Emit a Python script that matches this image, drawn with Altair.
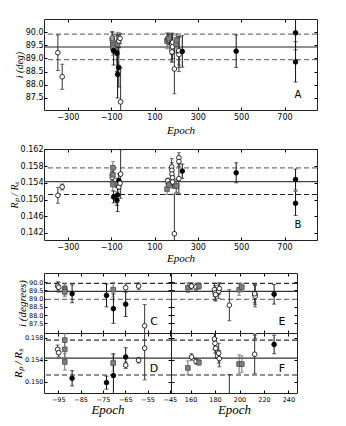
import altair as alt
import pandas as pd

# ---------------- data ----------------
epoch = [-346, -326, -95.3, -94.8, -92.1, -92.1, -92.1, -88.8, -73.4, -70.4, -70.3, -64.8, -64.8, -59.0, -56.3,
         157.8, 160.8, 164.5, 166.8, 179.5, 180.0, 180.5, 183.0, 183.5, 191.7, 199.7, 201.9, 212.6, 212.8, 212.4, 228.3,
         477, 751, 751]
series = ["open", "open", "open", "open", "grey", "grey", "grey", "black", "black", "grey", "black", "black", "open", "open", "open",
          "grey", "open", "open", "grey", "open", "open", "open", "open", "open", "open", "grey", "grey", "open", "open", "open", "black",
          "black", "black", "black"]
incl = [89.22, 88.30, 89.78, 89.70, 89.62, 89.52, 89.42, 89.30, 89.20, 89.55, 88.39, 88.66, 89.67, 89.77, 87.34,
        89.67, 89.77, 89.72, 89.77, 89.55, 89.35, 89.25, 89.45, 89.62, 88.60, 89.55, 89.70, 89.25, 89.15, 89.30, 89.27,
        89.28, 89.98, 88.87]
incl_err = [0.68, 0.48, 0.25, 0.30, 0.30, 0.30, 0.30, 0.55, 0.70, 0.45, 0.90, 0.75, 0.25, 0.20, 1.30,
            0.30, 0.20, 0.20, 0.20, 0.40, 0.45, 0.40, 0.45, 0.35, 0.95, 0.35, 0.25, 0.60, 0.65, 0.55, 0.60,
            0.62, 0.65, 0.77]
rprs = [0.1510, 0.1530, 0.1559, 0.1553, 0.1576, 0.1559, 0.1536, 0.1506, 0.1498, 0.1534, 0.1511, 0.1545, 0.1530, 0.1539, 0.1561,
        0.1525, 0.1545, 0.1537, 0.1535, 0.1578, 0.1570, 0.1561, 0.1552, 0.1542, 0.1418, 0.1532, 0.1532, 0.1600, 0.1591, 0.1550, 0.1568,
        0.1564, 0.1548, 0.1491]
rprs_err = [0.0019, 0.0007, 0.0008, 0.0008, 0.0015, 0.0015, 0.0015, 0.0014, 0.0012, 0.0015, 0.0040, 0.0017, 0.0006, 0.0005, 0.0058,
            0.0013, 0.0006, 0.0005, 0.0005, 0.0020, 0.0018, 0.0018, 0.0018, 0.0015, 0.0095, 0.0017, 0.0015, 0.0012, 0.0012, 0.0035, 0.0017,
            0.0024, 0.0025, 0.0029]

# reference lines: upper dashed, mean (solid), lower dashed
incl_ref = [89.93, 89.44, 88.96]
rprs_ref = [0.1576, 0.1543, 0.1512]

ser_names = ["black", "grey", "open"]
ser_fill = ["#000000", "#808080", "#ffffff"]
ser_stroke = ["#000000", "#4d4d4d", "#000000"]
ser_shape = ["circle", "square", "circle"]
ser_err = ["#111111", "#6e6e6e", "#333333"]

df = pd.DataFrame({"epoch": epoch, "series": series, "incl": incl, "incl_err": incl_err,
                   "rprs": rprs, "rprs_err": rprs_err})

LABEL_FONT = "DejaVu Sans"
TITLE_FONT = "Liberation Serif"


def panel(ycol, ecol, refs, ref_cols, xdom, ydom, xticks, yticks, yfmt, w, h,
          xlabels, ylabels, xtitle, ytitle, letter, lx, ly, lfs, lab_fs, xtit_fs, ytit_fs, xtp):
    tick_common = dict(domain=False, grid=False, tickSize=3, offset=-3, tickColor="black")
    xax = alt.Axis(values=xticks, labels=xlabels, title=xtitle if xtitle else None, format="d",
                   labelFontSize=lab_fs, labelFont=LABEL_FONT, labelPadding=3,
                   titleFontSize=xtit_fs, titleFont=TITLE_FONT, titleFontStyle="italic",
                   titleFontWeight="normal", titlePadding=xtp, **tick_common)
    yax = alt.Axis(values=yticks, labels=ylabels, title=ytitle if ytitle else None, format=yfmt,
                   labelFontSize=lab_fs, labelFont=LABEL_FONT, labelPadding=1,
                   titleFontSize=ytit_fs, titleFont=TITLE_FONT, titleFontStyle="italic",
                   titleFontWeight="normal", titlePadding=1, **tick_common)
    xax2 = alt.Axis(orient="top", values=xticks, labels=False, title=None, **tick_common)
    yax2 = alt.Axis(orient="right", values=yticks, labels=False, title=None, **tick_common)

    xs = alt.Scale(domain=xdom, nice=False, zero=False)
    ys = alt.Scale(domain=ydom, nice=False, zero=False)

    base = alt.Chart(df).transform_calculate(
        lo=f"datum.{ycol} - datum.{ecol}", hi=f"datum.{ycol} + datum.{ecol}")

    layers = []
    dashes = [[5, 3], [1, 0], [5, 3]]
    for val, col, dash in zip(refs, ref_cols, dashes):
        layers.append(
            alt.Chart(pd.DataFrame({"ref": [val]})).mark_rule(
                color=col, strokeDash=dash, strokeWidth=1.2, clip=True
            ).encode(y=alt.Y("ref:Q", scale=ys, axis=None))
        )
    col_enc = alt.Color("series:N", scale=alt.Scale(domain=ser_names, range=ser_err), legend=None)
    # error bars (carry the top/right tick-only axes)
    layers.append(base.mark_rule(strokeWidth=1, clip=True).encode(
        x=alt.X("epoch:Q", scale=xs, axis=xax2),
        y=alt.Y("lo:Q", scale=ys, axis=yax2), y2="hi:Q", color=col_enc))
    layers.append(base.mark_tick(orient="horizontal", size=4, thickness=1, clip=True).encode(
        x=alt.X("epoch:Q", scale=xs, axis=None),
        y=alt.Y("lo:Q", scale=ys, axis=None), color=col_enc))
    layers.append(base.mark_tick(orient="horizontal", size=4, thickness=1, clip=True).encode(
        x=alt.X("epoch:Q", scale=xs, axis=None),
        y=alt.Y("hi:Q", scale=ys, axis=None), color=col_enc))
    # points (carry the labelled bottom/left axes)
    layers.append(base.mark_point(size=22, strokeWidth=0.8, opacity=1, fillOpacity=1, clip=True).encode(
        x=alt.X("epoch:Q", scale=xs, axis=xax),
        y=alt.Y(f"{ycol}:Q", scale=ys, axis=yax),
        fill=alt.Fill("series:N", scale=alt.Scale(domain=ser_names, range=ser_fill), legend=None),
        stroke=alt.Stroke("series:N", scale=alt.Scale(domain=ser_names, range=ser_stroke), legend=None),
        shape=alt.Shape("series:N", scale=alt.Scale(domain=ser_names, range=ser_shape), legend=None)))
    layers.append(alt.Chart(pd.DataFrame({"t": [letter]})).mark_text(
        font=LABEL_FONT, fontSize=lfs, color="black", align="center", baseline="middle"
    ).encode(text="t:N", x=alt.value(lx), y=alt.value(ly)))
    return alt.layer(*layers).resolve_axis(x="independent", y="independent").properties(width=w, height=h)


R_TITLE = "Rₚ / Rₛ"

pA = panel("incl", "incl_err", incl_ref, ["#777777", "#222222", "#777777"],
           [-410, 850], [87.03, 90.51], [-300, -100, 100, 300, 500, 700],
           [87.5, 88.0, 88.5, 89.0, 89.5, 90.0], ".1f", 273, 91,
           True, True, "Epoch", "i (deg)", "A", 254, 76, 10, 8, 11, 10, 3)
pB = panel("rprs", "rprs_err", rprs_ref, ["#777777", "#444444", "#222222"],
           [-410, 850], [0.1403, 0.1621], [-300, -100, 100, 300, 500, 700],
           [0.142, 0.146, 0.150, 0.154, 0.158, 0.162], ".3f", 273, 91,
           True, True, "Epoch", R_TITLE, "B", 254, 76, 10, 8, 11, 10, 1)

cx_dom = [-101.4, -44.5]
ex_dom = [144, 247]
cx_ticks = [-95, -85, -75, -65, -55, -45]
ex_ticks = [160, 180, 200, 220, 240]
i_ticks = [87.5, 88.0, 88.5, 89.0, 89.5, 90.0]
r_ticks = [0.150, 0.154, 0.158]

pC = panel("incl", "incl_err", incl_ref, ["#333333", "#333333", "#777777"],
           cx_dom, [86.9, 90.57], cx_ticks, i_ticks, ".1f", 127, 60,
           False, True, "", "i (degrees)", "C", 110, 49, 11, 6.5, 13, 11, 1)
pE = panel("incl", "incl_err", incl_ref, ["#333333", "#333333", "#777777"],
           ex_dom, [86.9, 90.57], ex_ticks, i_ticks, ".1f", 126, 60,
           False, False, "", "", "E", 111, 49, 11, 6.5, 13, 11, 1)
pD = panel("rprs", "rprs_err", rprs_ref, ["#333333", "#333333", "#222222"],
           cx_dom, [0.1479, 0.1589], cx_ticks, r_ticks, ".3f", 127, 60,
           True, True, "Epoch", R_TITLE, "D", 110, 36, 11, 6.5, 13, 11, 1)
pF = panel("rprs", "rprs_err", rprs_ref, ["#333333", "#333333", "#222222"],
           ex_dom, [0.1479, 0.1589], ex_ticks, r_ticks, ".3f", 126, 60,
           True, False, "Epoch", "", "F", 111, 36, 11, 6.5, 13, 11, 1)

grid = alt.concat(pC, pE, pD, pF, columns=2, spacing=0, bounds="flush")

chart = alt.vconcat(pA, pB, grid, spacing=8).properties(
    padding={"left": 0, "top": 10, "right": 5, "bottom": 5}
).configure_view(stroke="#222222", strokeWidth=1).configure_axis(
    labelColor="black", titleColor="black"
)

chart.save("out.html", embed_options={"renderer": "svg", "actions": False})
